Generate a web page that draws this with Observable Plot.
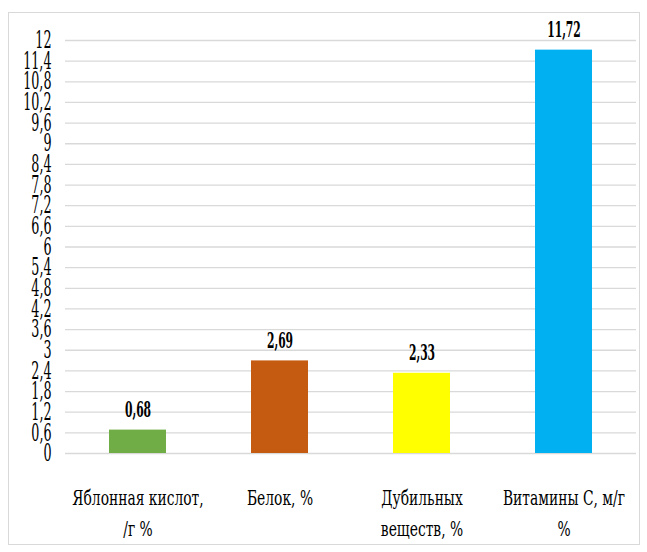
<!DOCTYPE html>
<html><head><meta charset="utf-8">
<script src="https://cdn.jsdelivr.net/npm/d3@7"></script>
<script src="https://cdn.jsdelivr.net/npm/@observablehq/plot@0.6"></script>
<style>
body{margin:0;background:#fff}
#wrap{position:relative;width:647px;height:552px}
#frame{position:absolute;left:8px;top:12px;width:632px;height:533px;border:1.5px solid #d9d9d9;box-sizing:border-box;pointer-events:none}
#wrap svg{position:absolute;left:0;top:0}
</style>
</head><body><div id="wrap"><div id="frame"></div></div>
<script>
const categories = ["Яблонная кислот,\n/г %", "Белок, %", "Дубильных\nвеществ, %", "Витамины С, м/г\n%"];
const values = [0.68, 2.69, 2.33, 11.72];
const colors = ["#70AD47", "#C55A11", "#FFFF00", "#00B0F0"];
const yTicks = [0, 0.6, 1.2, 1.8, 2.4, 3, 3.6, 4.2, 4.8, 5.4, 6, 6.6, 7.2, 7.8, 8.4, 9, 9.6, 10.2, 10.8, 11.4, 12];

const data = categories.map((c, i) => ({cat: c, value: values[i], color: colors[i]}));
const comma = s => s.replace(".", ",");
const serif = "DejaVu Serif";

const svg = Plot.plot({
  width: 647, height: 552,
  marginLeft: 65, marginRight: 11, marginTop: 40, marginBottom: 99,
  style: {fontFamily: serif, background: "transparent", color: "#000"},
  x: {domain: categories, paddingInner: 0.6, paddingOuter: 0.3, align: 0.5, label: null},
  y: {domain: [0, 12], label: null},
  marks: [
    Plot.gridY(yTicks, {stroke: "#d9d9d9", strokeOpacity: 1, strokeWidth: 1.3}),
    Plot.barY(data, {x: "cat", y: "value", fill: "color", style: {filter: "drop-shadow(0px 0px 2px rgba(0,0,0,0.25))"}}),
    Plot.text(data, {x: "cat", y: "value", text: d => comma(d.value.toFixed(2)), dy: -13, lineAnchor: "bottom", fontWeight: "bold", fontSize: 21.5, fontFamily: serif, fill: "#000"}),
    Plot.axisY(yTicks, {tickSize: 0, tickPadding: 14, fontSize: 24, fontFamily: serif, label: null, tickFormat: d => comma(String(+d.toFixed(1)))}),
    Plot.axisX({tickSize: 0, tickPadding: 30, fontSize: 21, fontFamily: serif, lineHeight: 1.47, label: null})
  ]
});

function squeeze(sel, sx) {
  svg.querySelectorAll(sel).forEach(t => {
    const x = +t.getAttribute("x") || 0, y = +t.getAttribute("y") || 0;
    const tr = t.getAttribute("transform") || "";
    t.setAttribute("transform", `${tr} translate(${x},${y}) scale(${sx},1) translate(${-x},${-y})`);
  });
}
squeeze('g[aria-label="y-axis tick label"] text', 0.53);
squeeze('g[aria-label="x-axis tick label"] text', 0.66);
squeeze('g[aria-label="text"] text', 0.5);

document.getElementById("wrap").appendChild(svg);
</script>
</body></html>
